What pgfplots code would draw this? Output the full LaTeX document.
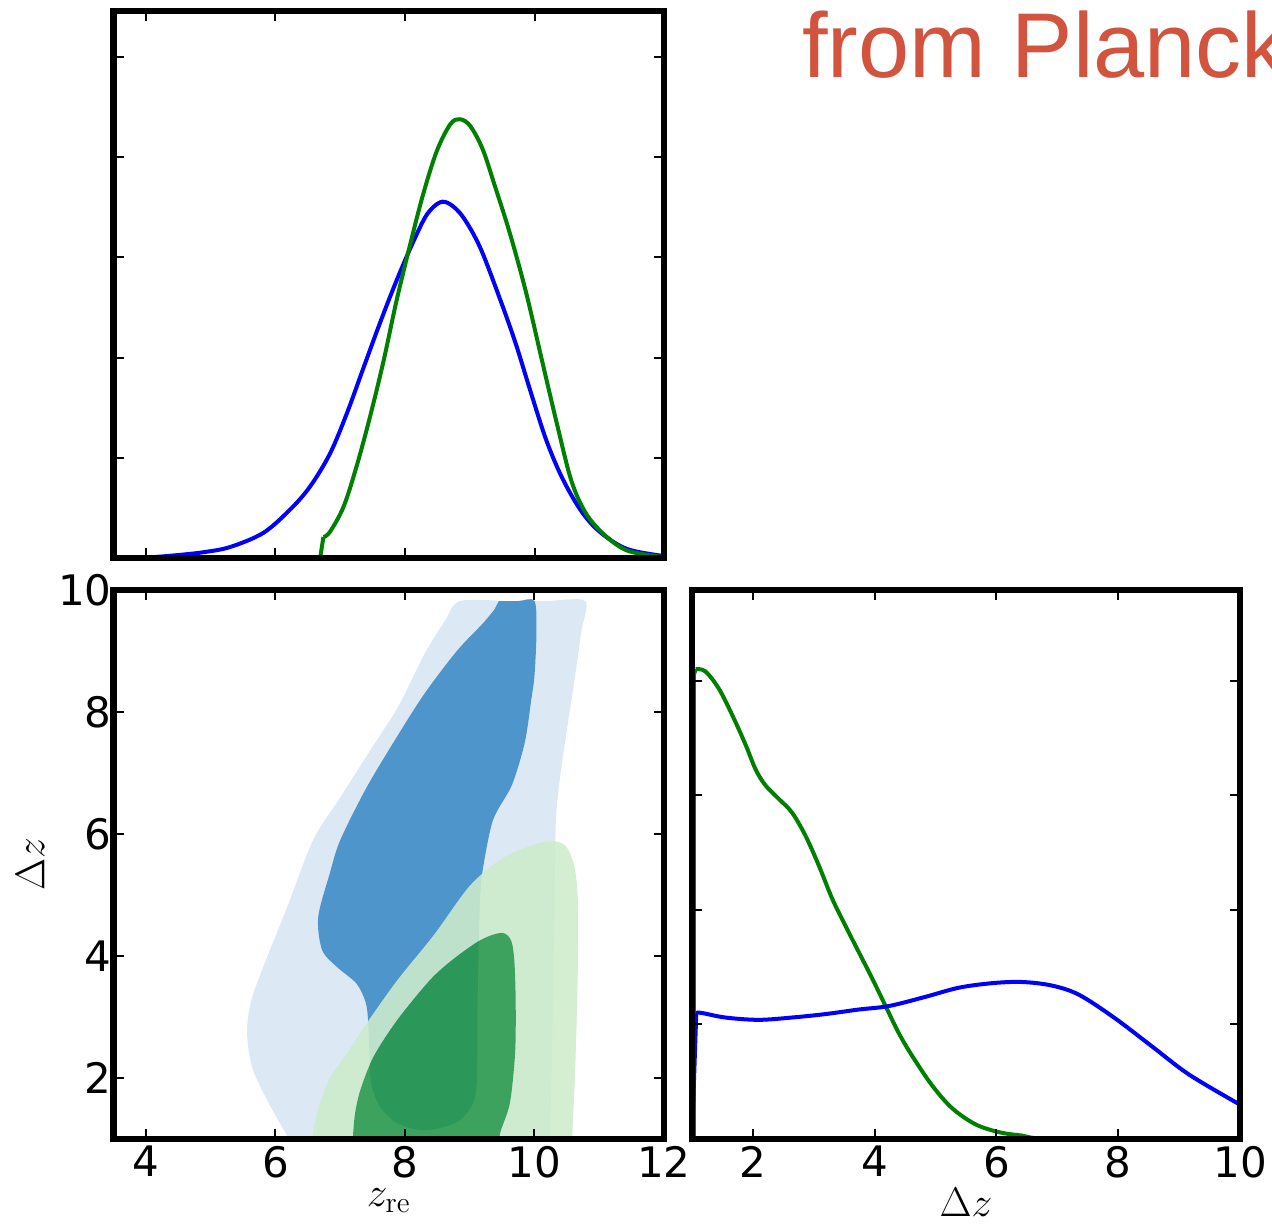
\documentclass[border=0pt]{standalone}
\usepackage{pgfplots}
\pgfplotsset{compat=1.18}
\usepackage{fontspec}
\newfontfamily\dejavu{DejaVu Sans}
\newfontfamily\arial{Liberation Sans}
\definecolor{lblue}{RGB}{220,233,245}
\definecolor{dblue}{RGB}{78,149,204}
\definecolor{lgreen}{RGB}{205,236,203}
\definecolor{dgreen}{RGB}{38,152,71}
\definecolor{ttl}{RGB}{210,84,62}
\definecolor{pgreen}{RGB}{0,128,0}
\definecolor{pblue}{RGB}{0,0,255}
\pgfplotsset{tri/.style={scale only axis,
  axis line style={line width=3.2pt, line cap=rect},
  every tick/.style={black, line width=1pt},
  major tick length=5pt, tick align=inside,
  ticklabel style={font=\dejavu\fontsize{21}{21}\selectfont},
  yticklabel style={xshift=2.5pt},
  /pgf/number format/assume math mode=true,
  label style={font=\fontsize{21}{21}\selectfont},
  xlabel style={yshift=1.5pt},
  axis on top, clip=true}}
\begin{document}
\begin{tikzpicture}
\path[use as bounding box] (0,0) rectangle (636pt,-611.5pt);
\clip (0,0) rectangle (636pt,-611.5pt);
% top-left: 1D z_re
\begin{axis}[tri, at={(56.8pt,-279pt)}, anchor=south west, width=275.2pt, height=273.5pt,
  xmin=3.5, xmax=12, ymin=0, ymax=5.46, xtick={4,6,8,10}, xticklabels={},
  ytick={1,2,3,4,5}, yticklabels={}]
\addplot[pblue, line width=2pt, smooth, tension=0.55] coordinates {
(3.5,0) (4.0,0.005) (4.5,0.03) (4.91,0.06) (5.30,0.11) (5.81,0.25) (6.22,0.48) (6.53,0.71)
(6.84,1.04) (7.10,1.44) (7.36,1.90) (7.61,2.34) (7.87,2.77) (8.13,3.16) (8.34,3.43) (8.54,3.55)
(8.70,3.53) (8.90,3.40) (9.16,3.10) (9.47,2.58) (9.71,2.14) (9.94,1.66) (10.18,1.18) (10.42,0.81)
(10.71,0.48) (11.01,0.26) (11.43,0.09) (12,0.02)};
\addplot[pgreen, line width=2pt] coordinates {(6.69,0) (6.74,0.21)};
\addplot[pgreen, line width=2pt, smooth, tension=0.55] coordinates {
(6.74,0.21) (6.84,0.26) (7.05,0.51) (7.25,0.91) (7.46,1.41) (7.67,1.97) (7.87,2.57) (8.08,3.13)
(8.28,3.63) (8.49,4.06) (8.70,4.33) (8.85,4.38) (9.01,4.31) (9.20,4.08) (9.38,3.73) (9.62,3.24)
(9.87,2.65) (10.12,1.96) (10.35,1.33) (10.57,0.77) (10.80,0.44) (11.10,0.22) (11.45,0.07) (12,0.01)};
\end{axis}
% bottom-left: 2D
\begin{axis}[tri, at={(56.8pt,-569.5pt)}, anchor=south west, width=275.2pt, height=274.5pt,
  xmin=3.5, xmax=12, ymin=1, ymax=10, xtick={4,6,8,10,12}, ytick={2,4,6,8,10},
  xlabel={$z_{\rm re}$}, ylabel={$\Delta z$}]
\addplot[draw=none, fill=lblue, smooth, tension=0.5] coordinates {
(6.35,0.8) (6.21,1.0) (5.88,1.62) (5.64,2.17) (5.56,2.74) (5.62,3.25) (5.81,3.82) (6.18,4.8)
(6.58,5.9) (7.0,6.6) (7.45,7.35) (7.9,8.1) (8.3,8.95) (8.62,9.5) (8.85,9.82) (9.6,9.82) (10.2,9.82)
(10.78,9.82) (10.72,9.3) (10.6,8.4) (10.47,7.5) (10.38,6.8) (10.33,6.2) (10.31,5.0) (10.29,3.5)
(10.26,2.0) (10.24,0.8)};
\addplot[draw=none, fill=dblue, smooth, tension=0.5] coordinates {
(9.45,9.82) (9.75,9.82) (10.0,9.82) (10.03,9.3) (10.0,8.6) (9.95,8.2) (9.85,7.5) (9.65,6.8)
(9.36,6.23) (9.20,5.41) (9.16,4.97) (9.14,4.24) (9.12,3.2) (9.11,1.97) (9.05,1.59) (8.85,1.31)
(8.54,1.18) (8.23,1.15) (7.88,1.26) (7.62,1.52) (7.48,1.9) (7.45,2.4) (7.43,2.95) (7.39,3.25)
(7.25,3.55) (6.95,3.82) (6.72,4.1) (6.66,4.64) (6.84,5.36) (7.0,5.9) (7.4,6.75) (7.85,7.55)
(8.3,8.3) (8.8,9.0) (9.2,9.45) (9.38,9.68)};
\addplot[draw=none, fill=lgreen, fill opacity=0.88, even odd rule, smooth, tension=0.5,
  unbounded coords=jump] coordinates {
(6.50,0.8) (6.56,1.0) (6.66,1.5) (6.84,2.0) (7.1,2.4) (7.41,2.9) (7.88,3.6) (8.45,4.35)
(9.0,5.15) (9.5,5.6) (10.0,5.83) (10.32,5.88) (10.5,5.78) (10.62,5.45) (10.67,4.9) (10.67,3.9)
(10.65,2.9) (10.62,1.9) (10.58,1.0) (10.57,0.8)
(nan,nan)
(7.18,0.8) (7.2,1.1) (7.23,1.43) (7.31,1.8) (7.51,2.34) (7.88,2.95) (8.39,3.61) (8.76,3.96)
(9.18,4.27) (9.5,4.38) (9.64,4.25) (9.69,3.9) (9.71,3.2) (9.70,2.4) (9.62,1.59) (9.47,1.1) (9.44,0.8)};
\addplot[draw=none, fill=dgreen, fill opacity=0.87, smooth, tension=0.5] coordinates {
(7.18,0.8) (7.2,1.1) (7.23,1.43) (7.31,1.8) (7.51,2.34) (7.88,2.95) (8.39,3.61) (8.76,3.96)
(9.18,4.27) (9.5,4.38) (9.64,4.25) (9.69,3.9) (9.71,3.2) (9.70,2.4) (9.62,1.59) (9.47,1.1) (9.44,0.8)};
\end{axis}
% bottom-right: 1D Delta z
\begin{axis}[tri, at={(346pt,-569.5pt)}, anchor=south west, width=274pt, height=274.5pt,
  xmin=1, xmax=10, ymin=0, ymax=4.79, xtick={2,4,6,8,10}, ytick={1,2,3,4}, yticklabels={},
  xlabel={$\Delta z$}]
\addplot[pgreen, line width=2pt] coordinates {(1.03,0) (1.03,4.05) (1.06,4.10)};
\addplot[pgreen, line width=2pt, smooth, tension=0.55] coordinates {
(1.06,4.10) (1.22,4.08) (1.44,3.93) (1.66,3.70) (1.88,3.44) (2.04,3.23) (2.20,3.09) (2.42,2.97)
(2.64,2.85) (2.86,2.65) (3.08,2.39) (3.30,2.10) (3.52,1.86) (3.74,1.63) (3.96,1.40) (4.17,1.17)
(4.39,0.93) (4.61,0.73) (4.94,0.47) (5.27,0.27) (5.65,0.13) (6.04,0.06) (6.42,0.03) (7.0,0.0) (10,0)};
\addplot[pblue, line width=2pt] coordinates {(1.0,0) (1.07,1.10)};
\addplot[pblue, line width=2pt, smooth, tension=0.55] coordinates {
(1.07,1.10) (1.16,1.10) (1.55,1.06) (2.09,1.04) (2.64,1.06) (3.19,1.09) (3.74,1.13) (4.23,1.16)
(4.83,1.24) (5.38,1.32) (5.93,1.36) (6.42,1.37) (6.90,1.34) (7.35,1.26) (7.93,1.06) (8.55,0.81)
(9.17,0.56) (10,0.30)};
\end{axis}
\node[anchor=base west, text=ttl, font=\arial\fontsize{46}{46}\selectfont, inner sep=0pt]
  at (401pt,-38.5pt) {from Planck};
\end{tikzpicture}
\end{document}
